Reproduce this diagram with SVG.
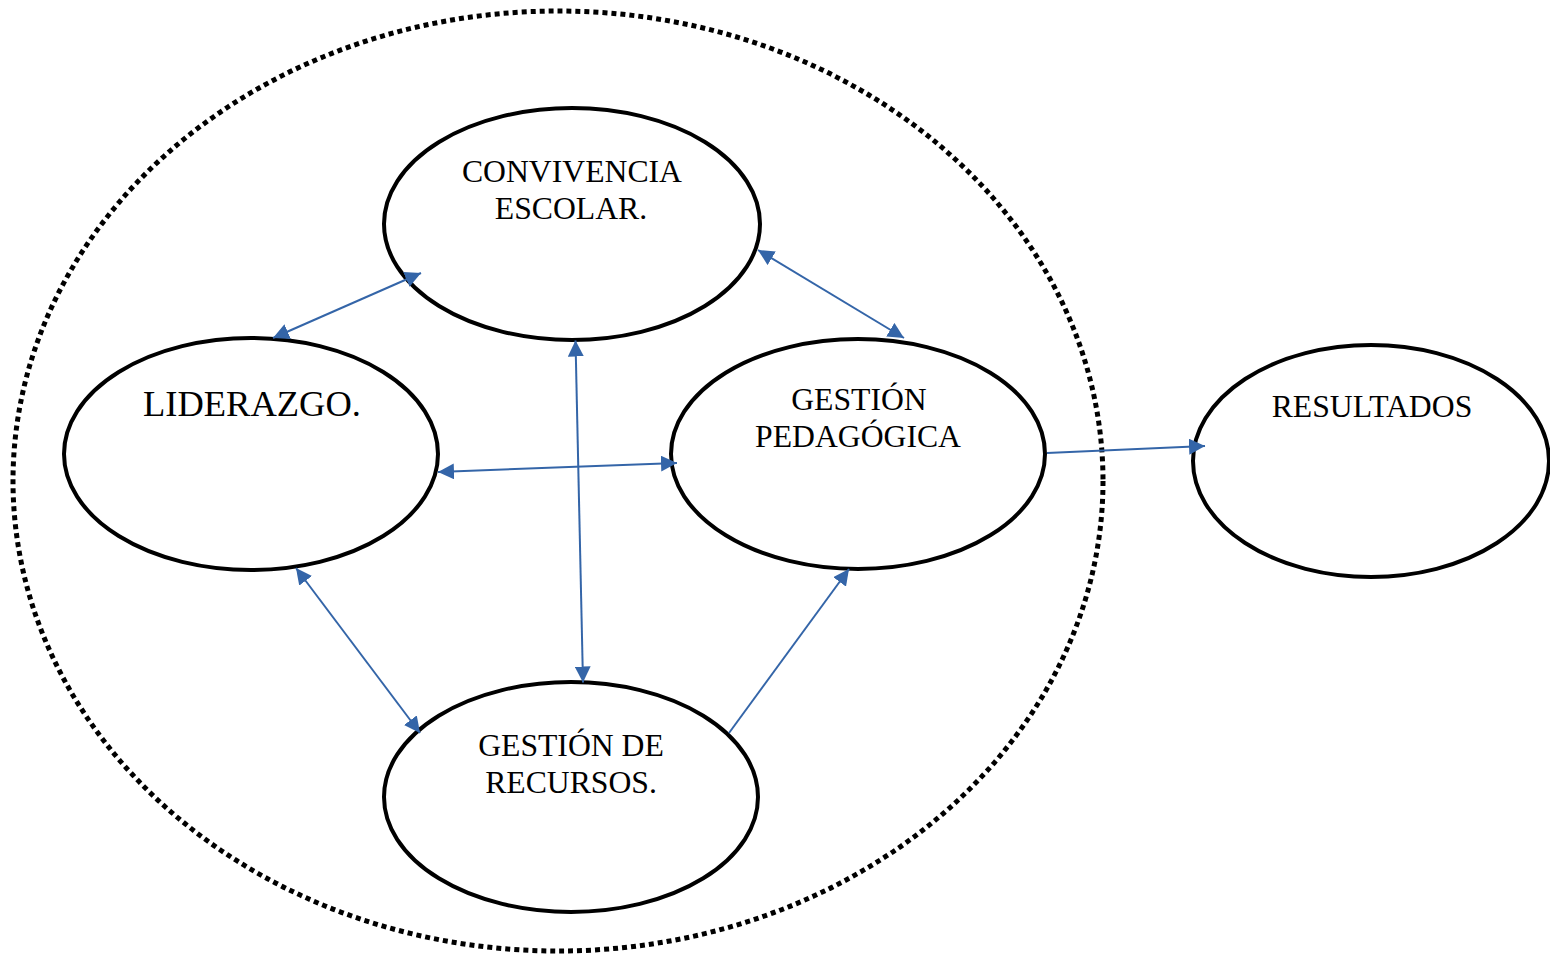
<svg xmlns="http://www.w3.org/2000/svg" width="1550" height="955" viewBox="0 0 1550 955">
<style>
.node{fill:#fff;stroke:#000;stroke-width:4}
.lbl{font-family:"Liberation Serif","Times New Roman",serif;font-size:31.7px;fill:#000;text-anchor:middle}
.con{fill:none;stroke:#3465a8;stroke-width:2}
.boundary{fill:none;stroke:#000;stroke-width:5;stroke-dasharray:5 4}
</style>
<defs>
<marker id="ah" markerUnits="userSpaceOnUse" markerWidth="16" markerHeight="16" viewBox="0 0 14 14" refX="14" refY="7" orient="auto-start-reverse">
<path d="M0,0 L14,7 L0,14 Z" fill="#3465a8"/>
</marker>
</defs>
<rect width="1550" height="955" fill="#fff"/>
<ellipse id="boundary" class="boundary" cx="558" cy="481" rx="545" ry="470"/>
<g id="convivencia">
<ellipse class="node" cx="572" cy="224" rx="188" ry="116"/>
<text class="lbl" x="572" y="182">CONVIVENCIA</text>
<text class="lbl" x="571" y="219">ESCOLAR.</text>
</g>
<g id="liderazgo">
<ellipse class="node" cx="251" cy="454" rx="187" ry="116"/>
<text class="lbl" x="252" y="416" style="font-size:36.5px">LIDERAZGO.</text>
</g>
<g id="pedagogica">
<ellipse class="node" cx="858" cy="454" rx="187" ry="115"/>
<text class="lbl" x="859" y="410">GESTIÓN</text>
<text class="lbl" x="858" y="447">PEDAGÓGICA</text>
</g>
<g id="recursos">
<ellipse class="node" cx="571" cy="797" rx="187" ry="115"/>
<text class="lbl" x="571" y="756">GESTIÓN DE</text>
<text class="lbl" x="571" y="793">RECURSOS.</text>
</g>
<g id="resultados">
<ellipse class="node" cx="1371" cy="461" rx="178" ry="116"/>
<text class="lbl" x="1372" y="417">RESULTADOS</text>
</g>
<g id="connectors">
<path class="con" d="M421,273 L273,338" marker-start="url(#ah)" marker-end="url(#ah)"/>
<path class="con" d="M758,250 L904,338" marker-start="url(#ah)" marker-end="url(#ah)"/>
<path class="con" d="M575.5,340.5 L583,682.5" marker-start="url(#ah)" marker-end="url(#ah)"/>
<path class="con" d="M438,472 L677,463" marker-start="url(#ah)" marker-end="url(#ah)"/>
<path class="con" d="M296,568 L420,733" marker-start="url(#ah)" marker-end="url(#ah)"/>
<path class="con" d="M729,733 L849,569" marker-end="url(#ah)"/>
<path class="con" d="M1047,453 L1205,446" marker-end="url(#ah)"/>
</g>
</svg>
